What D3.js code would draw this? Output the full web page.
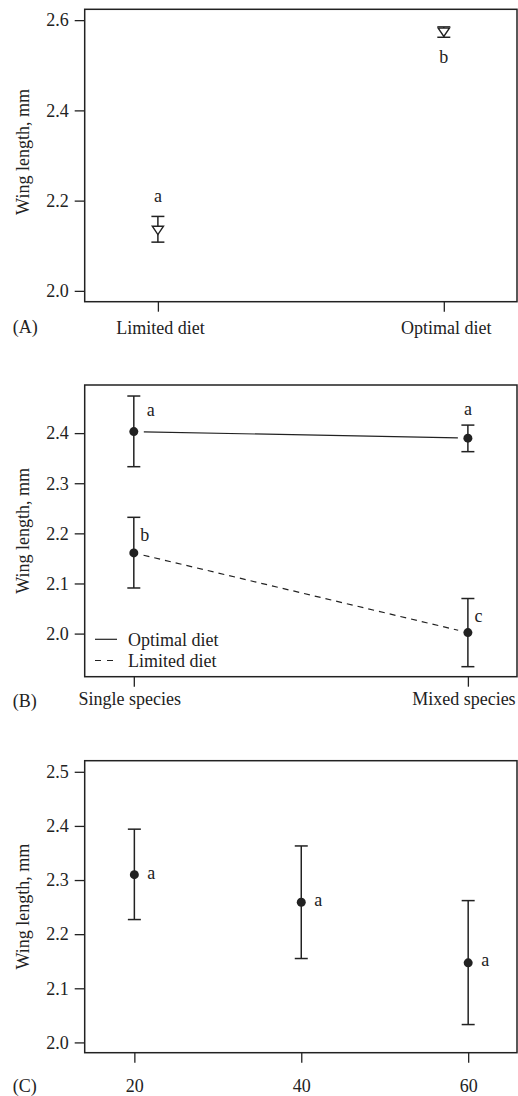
<!DOCTYPE html>
<html>
<head>
<meta charset="utf-8">
<script src="https://cdn.jsdelivr.net/npm/d3@7"></script>
<style>
  body { margin: 0; background: #fff; }
  text { font-family: "Liberation Serif", "Times New Roman", serif; fill: #222; }
</style>
</head>
<body>
<div id="chart"></div>
<script>
// Panel A: diet
const dietA = ["Limited diet", "Optimal diet"];
const meanA = [2.134, 2.573];
const lowA = [2.108, 2.562];
const highA = [2.165, 2.585];
const lettersA = ["a", "b"];
const ticksA = [2.0, 2.2, 2.4, 2.6];

// Panel B: species composition x diet
const groupsB = ["Single species", "Mixed species"];
const optimalMean = [2.403, 2.390];
const optimalLow = [2.333, 2.363];
const optimalHigh = [2.474, 2.416];
const optimalLetters = ["a", "a"];
const limitedMean = [2.161, 2.002];
const limitedLow = [2.091, 1.934];
const limitedHigh = [2.232, 2.070];
const limitedLetters = ["b", "c"];
const ticksB = [2.0, 2.1, 2.2, 2.3, 2.4];

// Panel C: density
const densityC = [20, 40, 60];
const meanC = [2.310, 2.259, 2.147];
const lowC = [2.227, 2.155, 2.033];
const highC = [2.394, 2.363, 2.262];
const lettersC = ["a", "a", "a"];
const ticksC = [2.0, 2.1, 2.2, 2.3, 2.4, 2.5];

const W = 518, H = 1096;
const left = 84.7, right = 517;
const ink = "#222";
const fontSize = 18;

const svg = d3.select("#chart").append("svg")
    .attr("width", W)
    .attr("height", H);

// downward pointing open triangle
const triangleDown = {
  draw(ctx, size) {
    const w = 5.6, h = 4.2;
    ctx.moveTo(-w, -h);
    ctx.lineTo(w, -h);
    ctx.lineTo(0, h);
    ctx.closePath();
  }
};

function panel(opts) {
  const g = svg.append("g");
  const y = opts.y;
  const x = opts.x;
  const top = y.range()[1], bottom = y.range()[0];

  // y axis
  const ya = g.append("g")
      .attr("transform", "translate(" + left + ",0)")
      .call(d3.axisLeft(y).tickValues(opts.yTicks).tickSize(10).tickPadding(6)
        .tickFormat(d3.format(".1f")));
  ya.select(".domain").remove();

  // x axis
  const xa = g.append("g")
      .attr("transform", "translate(0," + bottom + ")")
      .call(d3.axisBottom(x).tickValues(opts.xTicks).tickSize(10).tickPadding(opts.xPad));
  xa.select(".domain").remove();
  xa.selectAll("text").attr("dx", opts.xdx || 0);

  [ya, xa].forEach(a => {
    a.selectAll("line").attr("stroke", ink).attr("stroke-width", 1.3);
    a.selectAll("text").style("font-size", fontSize + "px").attr("fill", ink)
      .style("font-family", '"Liberation Serif", serif');
  });

  // frame
  g.append("rect")
      .attr("x", left).attr("y", top)
      .attr("width", right - left).attr("height", bottom - top)
      .attr("fill", "none")
      .attr("stroke", ink)
      .attr("stroke-width", 1.5);

  // y title
  g.append("text")
      .attr("transform", "translate(28.5," + (opts.titleY || (top + bottom) / 2) + ") rotate(-90)")
      .attr("text-anchor", "middle")
      .style("font-size", fontSize + "px")
      .text("Wing length, mm");

  // panel letter
  g.append("text")
      .attr("x", 12.7)
      .attr("y", opts.letterY)
      .style("font-size", fontSize + "px")
      .text(opts.letter);

  return g;
}

function errorBars(g, xs, y, low, high, cap) {
  const bars = g.append("g").attr("stroke", ink).attr("stroke-width", 1.5);
  xs.forEach((xv, i) => {
    bars.append("line")
        .attr("x1", xv).attr("x2", xv)
        .attr("y1", y(low[i])).attr("y2", y(high[i]));
    [low[i], high[i]].forEach(v => {
      bars.append("line")
          .attr("x1", xv - cap).attr("x2", xv + cap)
          .attr("y1", y(v)).attr("y2", y(v));
    });
  });
}

function letters(g, xs, ys, labels, dx, dy, anchors) {
  g.append("g").selectAll("text")
      .data(labels)
      .join("text")
      .attr("x", (d, i) => xs[i] + dx[i])
      .attr("y", (d, i) => ys[i] + dy[i])
      .attr("text-anchor", (d, i) => anchors[i])
      .style("font-size", fontSize + "px")
      .text(d => d);
}

// ---------- Panel A ----------
const xA = d3.scalePoint().domain(dietA).range([left, right]).padding(0.256);
const yA = d3.scaleLinear().domain([1.976, 2.624]).range([301.7, 9.3]);
const gA = panel({ x: xA, y: yA, yTicks: ticksA, xTicks: dietA, xPad: 9.5, xdx: 2,
                   letter: "(A)", letterY: 333, titleY: 152 });
const xsA = dietA.map(d => xA(d));
errorBars(gA, xsA, yA, lowA, highA, 6.5);
gA.append("g").selectAll("path")
    .data(meanA)
    .join("path")
    .attr("transform", (d, i) => "translate(" + xsA[i] + "," + yA(d) + ")")
    .attr("d", d3.symbol().type(triangleDown))
    .attr("fill", "#fff")
    .attr("stroke", ink)
    .attr("stroke-width", 1.4);
// letters: "a" above, "b" below
letters(gA, xsA, [yA(highA[0]), yA(lowA[1])], lettersA, [0, 0], [-14, 25.5], ["middle", "middle"]);

// ---------- Panel B ----------
const xB = d3.scalePoint().domain(groupsB).range([left, right]).padding(0.147);
const yB = d3.scaleLinear().domain([1.914, 2.496]).range([676.7, 385]);
const gB = panel({ x: xB, y: yB, yTicks: ticksB, xTicks: groupsB, xPad: 5.5, xdx: -4.5,
                   letter: "(B)", letterY: 707 });
const xsB = groupsB.map(d => xB(d));

function trimmedLine(means, dash) {
  const x1 = xsB[0], x2 = xsB[1];
  const y1 = yB(means[0]), y2 = yB(means[1]);
  const len = Math.hypot(x2 - x1, y2 - y1), t = 10 / len;
  gB.append("line")
      .attr("x1", x1 + (x2 - x1) * t).attr("y1", y1 + (y2 - y1) * t)
      .attr("x2", x2 - (x2 - x1) * t).attr("y2", y2 - (y2 - y1) * t)
      .attr("stroke", ink)
      .attr("stroke-width", 1.2)
      .attr("stroke-dasharray", dash);
}
trimmedLine(optimalMean, null);
trimmedLine(limitedMean, "6,5");

errorBars(gB, xsB, yB, optimalLow, optimalHigh, 6.5);
errorBars(gB, xsB, yB, limitedLow, limitedHigh, 6.5);

[optimalMean, limitedMean].forEach(m => {
  gB.append("g").selectAll("circle")
      .data(m)
      .join("circle")
      .attr("cx", (d, i) => xsB[i])
      .attr("cy", d => yB(d))
      .attr("r", 4.5)
      .attr("fill", ink);
});

// first "a" sits to the right of its bar, the second is centred above it
letters(gB, xsB, optimalHigh.map(v => yB(v)), optimalLetters, [13, 0], [19.5, -10.5], ["start", "middle"]);
letters(gB, xsB, limitedHigh.map(v => yB(v)), limitedLetters, [6.5, 6.7], [23.5, 23.5], ["start", "start"]);

// legend
const legendB = [
  { name: "Optimal diet", dash: null, y: 639.3 },
  { name: "Limited diet", dash: "6,6", y: 660.5 }
];
legendB.forEach(d => {
  gB.append("line")
      .attr("x1", 95).attr("x2", 117)
      .attr("y1", d.y).attr("y2", d.y)
      .attr("stroke", ink)
      .attr("stroke-width", 1.2)
      .attr("stroke-dasharray", d.dash);
  gB.append("text")
      .attr("x", 128).attr("y", d.y + 6.5)
      .style("font-size", fontSize + "px")
      .text(d.name);
});

// ---------- Panel C ----------
const xC = d3.scaleLinear().domain([14.05, 65.85]).range([left, right]);
const yC = d3.scaleLinear().domain([1.981, 2.5205]).range([1052.7, 760.7]);
const gC = panel({ x: xC, y: yC, yTicks: ticksC, xTicks: densityC, xPad: 16.2,
                   letter: "(C)", letterY: 1091.7 });
const xsC = densityC.map(d => xC(d));
errorBars(gC, xsC, yC, lowC, highC, 6.5);
gC.append("g").selectAll("circle")
    .data(meanC)
    .join("circle")
    .attr("cx", (d, i) => xsC[i])
    .attr("cy", d => yC(d))
    .attr("r", 4.5)
    .attr("fill", ink);
letters(gC, xsC, meanC.map(v => yC(v)), lettersC, [13, 13, 13], [4, 4, 3], ["start", "start", "start"]);
</script>
</body>
</html>
